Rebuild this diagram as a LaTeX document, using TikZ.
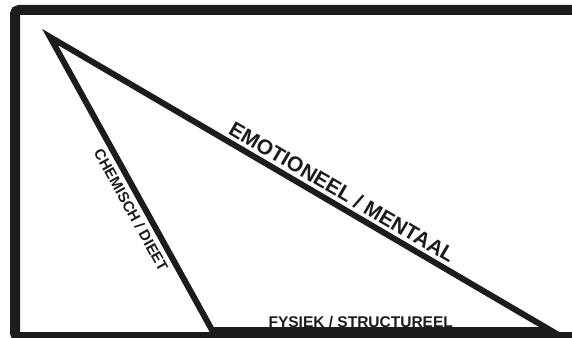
\documentclass[tikz,border=0pt]{standalone}
\usepackage{fontspec}
\setmainfont{Liberation Sans}
\usepackage{tikz}
\usetikzlibrary{calc}
\definecolor{FrameBlack}{RGB}{28,28,28}

\begin{document}
\begin{tikzpicture}[
  x=1pt,y=-1pt,
  frame/.style={draw=FrameBlack,line width=10pt,rounded corners=4pt},
  edge/.style={draw=FrameBlack,line width=6pt,line join=miter},
  label/.style={font=\bfseries,text=FrameBlack,inner sep=1pt},
]
\useasboundingbox (0,0) rectangle (572,337);
\fill[white] (0,0) rectangle (572,337);
% open frame, cut by the page on the right and bottom
\draw[frame] (600,10) -- (15,10) -- (15,337) -- (600,337);
% triangle corners
\coordinate (apex) at (50,37);
\coordinate (baseL) at (212,330);
\coordinate (baseR) at (550,330);
\draw[edge] (apex) -- (baseR) -- (baseL) -- cycle;
% labels along the sides
\path (apex) -- (baseR)
  node[label,pos=0.57,sloped,above=5pt,font=\bfseries\fontsize{21}{21}\selectfont] (emo) {EMOTIONEEL / MENTAAL};
\path (apex) -- (baseL)
  node[label,pos=0.57,sloped,below=6pt,font=\bfseries\fontsize{15}{15}\selectfont] (chem) {CHEMISCH / DIEET};
\path (baseL) -- (baseR)
  node[label,pos=0.44,anchor=base,inner sep=0pt,yshift=3pt,font=\bfseries\fontsize{15.5}{15.5}\selectfont] (fys) {FYSIEK / STRUCTUREEL};
\end{tikzpicture}
\end{document}
